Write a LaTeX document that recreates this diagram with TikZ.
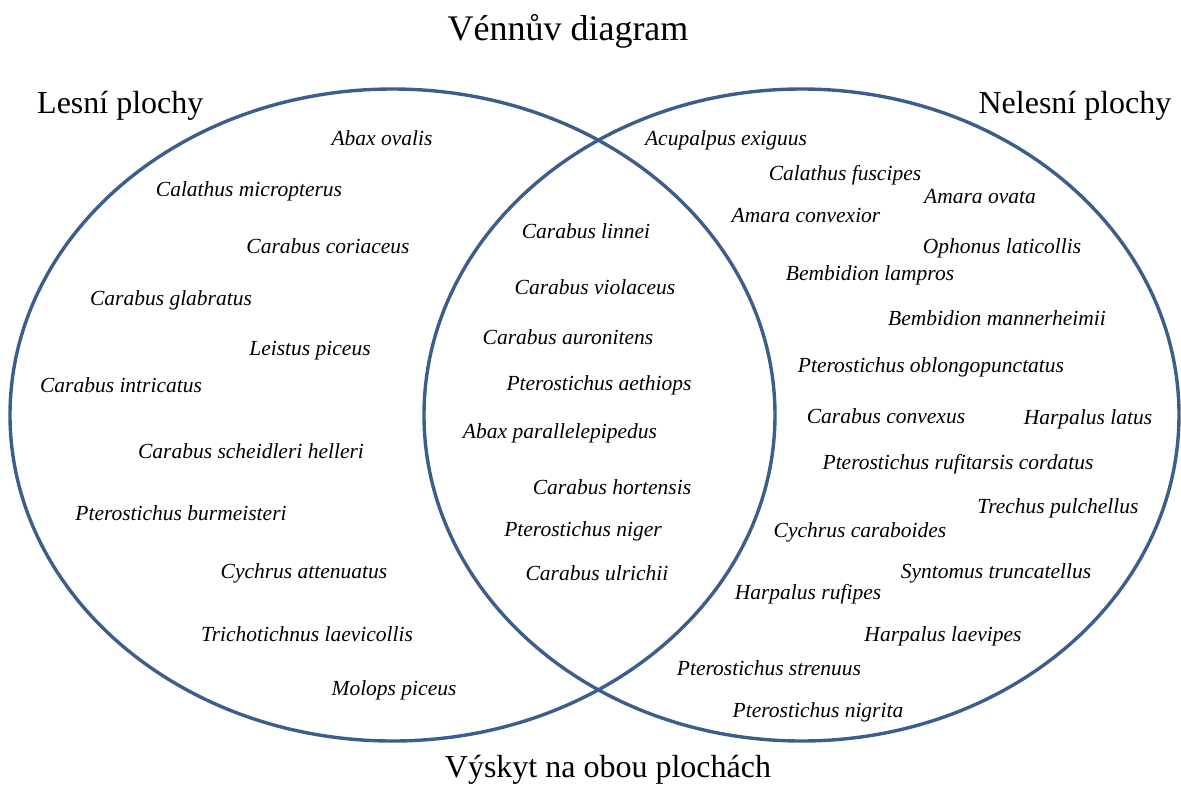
\documentclass[tikz,border=0pt]{standalone}
\usepackage{fontspec}
\setmainfont{Liberation Serif}
\usetikzlibrary{shapes.geometric}
\definecolor{vennblue}{HTML}{3B5E8C}
\tikzset{
  beetle/.style={font=\fontsize{21.5}{24}\selectfont\itshape, inner sep=0pt, text height=0.7em, text depth=0.2em, yshift=-5pt},
  heading/.style={font=\fontsize{32}{36}\selectfont, inner sep=0pt, text height=0.7em, text depth=0.2em, yshift=-7pt},
}
\newcommand{\area}[5]{\node [ellipse, draw=vennblue, line width=3.4pt, inner sep=0pt, minimum width=#4pt, minimum height=#5pt] (#1) at (#2,#3) {};}
\newcommand{\beetle}[4]{\node[beetle] (#1) at (#2,#3) {#4};}

\begin{document}
\begin{tikzpicture}[x=1pt,y=-1pt]
    \useasboundingbox (0,0) rectangle (1181,785);
    \area{les}{392.5}{415}{765}{652}
    \area{neles}{801.5}{415}{755}{652}

    \node[heading, font=\fontsize{36}{40}\selectfont] (title) at (568,31) {Vénnův diagram};
    \node[heading, anchor=west] (lesTitle) at (37,104) {Lesní plochy};
    \node[heading] (nelesTitle) at (1075,104) {Nelesní plochy};
    \node[heading] (obaTitle) at (608,768) {Výskyt na obou plochách};

    % lesni plochy
    \beetle{L1}{382}{138}{Abax ovalis}
    \beetle{L2}{249}{189}{Calathus micropterus}
    \beetle{L3}{328}{246}{Carabus coriaceus}
    \beetle{L4}{171}{298}{Carabus glabratus}
    \beetle{L5}{310}{348}{Leistus piceus}
    \beetle{L6}{121}{385}{Carabus intricatus}
    \beetle{L7}{251}{451}{Carabus scheidleri helleri}
    \beetle{L8}{181}{513}{Pterostichus burmeisteri}
    \beetle{L9}{304}{571}{Cychrus attenuatus}
    \beetle{L10}{307}{634}{Trichotichnus laevicollis}
    \beetle{L11}{394}{688}{Molops piceus}

    % obe plochy
    \beetle{B1}{586}{231}{Carabus linnei}
    \beetle{B2}{595}{287}{Carabus violaceus}
    \beetle{B3}{568}{337}{Carabus auronitens}
    \beetle{B4}{599}{383}{Pterostichus aethiops}
    \beetle{B5}{560}{431}{Abax parallelepipedus}
    \beetle{B6}{612}{487}{Carabus hortensis}
    \beetle{B7}{583}{529}{Pterostichus niger}
    \beetle{B8}{597}{573}{Carabus ulrichii}

    % nelesni plochy
    \beetle{N1}{726}{138}{Acupalpus exiguus}
    \beetle{N2}{845}{173}{Calathus fuscipes}
    \beetle{N3}{980}{196}{Amara ovata}
    \beetle{N4}{806}{215}{Amara convexior}
    \beetle{N5}{1002}{246}{Ophonus laticollis}
    \beetle{N6}{870}{273}{Bembidion lampros}
    \beetle{N7}{997}{318}{Bembidion mannerheimii}
    \beetle{N8}{931}{365}{Pterostichus oblongopunctatus}
    \beetle{N9}{886}{416}{Carabus convexus}
    \beetle{N10}{1088}{417}{Harpalus latus}
    \beetle{N11}{958}{462}{Pterostichus rufitarsis cordatus}
    \beetle{N12}{1058}{506}{Trechus pulchellus}
    \beetle{N13}{860}{530}{Cychrus caraboides}
    \beetle{N14}{996}{571}{Syntomus truncatellus}
    \beetle{N15}{808}{592}{Harpalus rufipes}
    \beetle{N16}{943}{634}{Harpalus laevipes}
    \beetle{N17}{769}{668}{Pterostichus strenuus}
    \beetle{N18}{818}{710}{Pterostichus nigrita}
\end{tikzpicture}
\end{document}
